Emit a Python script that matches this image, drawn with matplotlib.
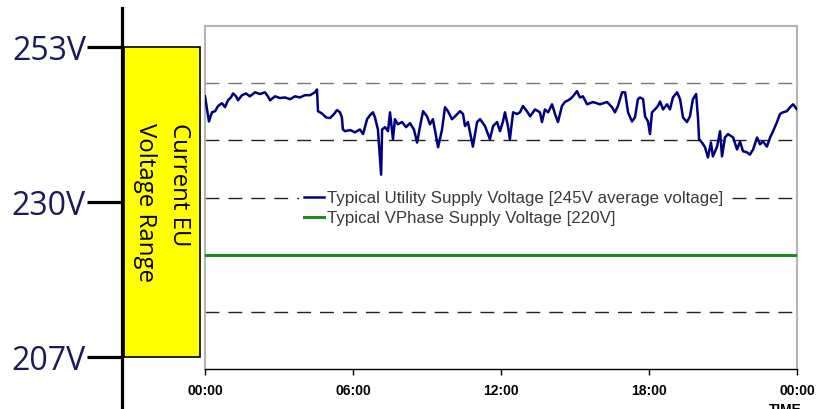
import matplotlib
matplotlib.use('Agg')
import matplotlib.pyplot as plt
from matplotlib.patches import Rectangle

# time of day (hours) and utility voltage
hours = [0.00, 0.16, 0.28, 0.41, 0.53, 0.69, 0.81, 0.93, 1.05, 1.14, 1.26, 1.34, 1.50, 1.66, 1.82,
         2.03, 2.23, 2.43, 2.55, 2.64, 2.84, 3.04, 3.24, 3.45, 3.65, 3.85, 4.05, 4.26, 4.46, 4.54,
         4.58, 4.74, 4.91, 5.07, 5.23, 5.35, 5.47, 5.55, 5.59, 5.68, 5.88, 6.08, 6.28, 6.41, 6.57,
         6.69, 6.81, 6.89, 7.01, 7.14, 7.18, 7.30, 7.42, 7.50, 7.62, 7.70, 7.82, 7.99, 8.15, 8.31,
         8.47, 8.60, 8.72, 8.84, 9.00, 9.12, 9.24, 9.45, 9.61, 9.73, 9.85, 10.01, 10.14, 10.34, 10.46,
         10.54, 10.66, 10.86, 11.03, 11.15, 11.35, 11.55, 11.68, 11.84, 11.96, 12.08, 12.16, 12.28,
         12.36, 12.49, 12.65, 12.77, 12.89, 13.05, 13.18, 13.38, 13.58, 13.66, 13.78, 13.91, 14.07,
         14.19, 14.31, 14.47, 14.59, 14.80, 14.92, 15.08, 15.20, 15.32, 15.49, 15.73, 16.01, 16.30,
         16.50, 16.62, 16.74, 16.91, 17.03, 17.15, 17.31, 17.43, 17.55, 17.64, 17.76, 17.84, 17.96,
         18.04, 18.12, 18.24, 18.36, 18.45, 18.57, 18.73, 18.85, 18.97, 19.14, 19.26, 19.38, 19.54,
         19.66, 19.78, 19.91, 19.99, 20.03, 20.15, 20.27, 20.39, 20.51, 20.59, 20.76, 20.88, 20.96,
         21.08, 21.20, 21.41, 21.57, 21.69, 21.81, 21.97, 22.09, 22.22, 22.38, 22.50, 22.62, 22.78,
         22.91, 23.03, 23.19, 23.31, 23.43, 23.59, 23.72, 23.84, 24.00]
utility_v = [247.7, 243.3, 244.9, 245.1, 246.0, 246.5, 245.8, 247.0, 247.5, 248.2, 247.7, 247.0, 247.9, 248.2, 247.7,
             248.4, 248.1, 248.4, 247.7, 247.0, 247.7, 247.4, 247.5, 247.2, 247.7, 247.5, 247.9, 247.9, 248.4, 248.9,
             245.1, 244.7, 244.0, 243.9, 244.6, 245.3, 244.9, 244.0, 241.9, 241.6, 241.8, 241.4, 241.9, 241.1, 243.7,
             244.4, 244.9, 244.0, 241.9, 234.0, 241.9, 242.3, 241.6, 244.9, 240.2, 243.7, 242.8, 243.2, 242.3, 243.0,
             241.9, 239.6, 242.5, 245.1, 244.2, 242.8, 243.7, 238.8, 241.9, 245.8, 245.1, 243.7, 244.2, 245.1, 244.6,
             242.5, 243.2, 238.9, 243.2, 243.7, 242.5, 240.2, 242.5, 243.2, 241.6, 243.3, 244.9, 242.5,
             240.2, 244.9, 244.6, 244.9, 246.0, 245.1, 244.2, 245.4, 244.9, 243.2, 245.4, 244.9, 246.3,
             244.6, 243.2, 246.0, 246.7, 247.2, 247.7, 248.6, 247.5, 247.7, 246.3, 246.7, 246.3, 246.7,
             245.8, 244.9, 246.0, 248.4, 248.4, 244.9, 243.3, 244.0, 247.2, 247.5, 247.2, 244.2, 243.3,
             241.1, 244.9, 245.4, 246.0, 246.8, 245.4, 246.3, 245.4, 247.5, 248.4, 247.2, 244.0, 243.2,
             244.2, 247.2, 248.1, 243.7, 240.2, 239.6, 238.8, 237.0, 239.6, 237.2, 238.9, 241.6, 237.2,
             240.5, 241.1, 240.5, 238.4, 239.8, 238.1, 237.9, 237.5, 238.4, 240.5, 239.3, 239.8, 238.9,
             240.5, 241.6, 243.2, 244.6, 244.9, 245.1, 245.8, 246.3, 245.4]

vphase_v = 220
grid_levels = [250, 240, 230, 210]
x_ticks = [0, 6, 12, 18, 24]
x_labels = ['00:00', '06:00', '12:00', '18:00', '00:00']

eu_ticks = [207, 230, 253]
eu_labels = ['207V', '230V', '253V']

fig = plt.figure(figsize=(8.2, 4.09), dpi=100)

# left scale with EU voltage range box
ax0 = fig.add_axes([122 / 820, 0, 78 / 820, 401 / 409])
ax0.set_ylim(199.3, 258.8)
ax0.set_xlim(0, 1)
for s in ['top', 'right', 'bottom']:
    ax0.spines[s].set_visible(False)
ax0.spines['left'].set_linewidth(2.3)
ax0.set_xticks([])
ax0.set_yticks(eu_ticks)
ax0.set_yticklabels(eu_labels, family='Open Sans', fontsize=23, color='#1a1a5c')
ax0.tick_params(axis='y', length=25, width=2.3, pad=1, color='black')
ax0.patch.set_visible(False)
ax0.add_patch(Rectangle((0.03, eu_ticks[0]), 0.97, eu_ticks[-1] - eu_ticks[0],
                        transform=ax0.get_yaxis_transform(), facecolor='#ffff00',
                        edgecolor='black', linewidth=1.2, clip_on=False))
ax0.text(0.51, 229.9, 'Current EU\nVoltage Range', rotation=270, ha='center', va='center',
         multialignment='left', family='Open Sans', fontsize=17.3, linespacing=1.55, color='black')

# main chart
ax = fig.add_axes([205 / 820, 40 / 409, 592 / 820, 343 / 409])
ax.set_xlim(0, 24)
ax.set_ylim(200, 260)
for lv in grid_levels:
    ax.axhline(lv, color='#777777' if lv == 250 else '#222222', linewidth=1.0,
               dashes=(10, 6.5), zorder=1)
ax.plot(hours, utility_v, color='#000080', linewidth=1.8, zorder=3,
        label='Typical Utility Supply Voltage [245V average voltage]')
ax.axhline(vphase_v, color='#1e8c1e', linewidth=2.2, zorder=3,
           label='Typical VPhase Supply Voltage [220V]')

ax.set_yticks([])
ax.set_xticks(x_ticks)
ax.set_xticklabels(x_labels, family='Liberation Sans', fontweight='bold', fontsize=10)
ax.tick_params(axis='x', length=4, width=1, pad=7, direction='out')
for s in ['top', 'left', 'right']:
    ax.spines[s].set_color('#b5b5b5')
    ax.spines[s].set_linewidth(1.5)
ax.spines['bottom'].set_color('black')
ax.spines['bottom'].set_linewidth(1.0)

leg = ax.legend(loc='upper left', bbox_to_anchor=(0.158, 0.535), frameon=True,
                prop={'family': 'Liberation Sans', 'size': 12.2}, handlelength=1.2,
                handletextpad=0.2, labelspacing=0.32, borderpad=0.3, borderaxespad=0)
leg.get_frame().set_facecolor('white')
leg.get_frame().set_edgecolor('none')
leg.get_frame().set_alpha(1)
leg.set_zorder(5)
for t in leg.get_texts():
    t.set_color('#3a3a3a')

fig.text(785 / 820, 1 - 403 / 409, 'TIME', ha='center', va='top', fontweight='bold',
         fontsize=10, family='Liberation Sans')

fig.savefig('out.png', dpi=100)
